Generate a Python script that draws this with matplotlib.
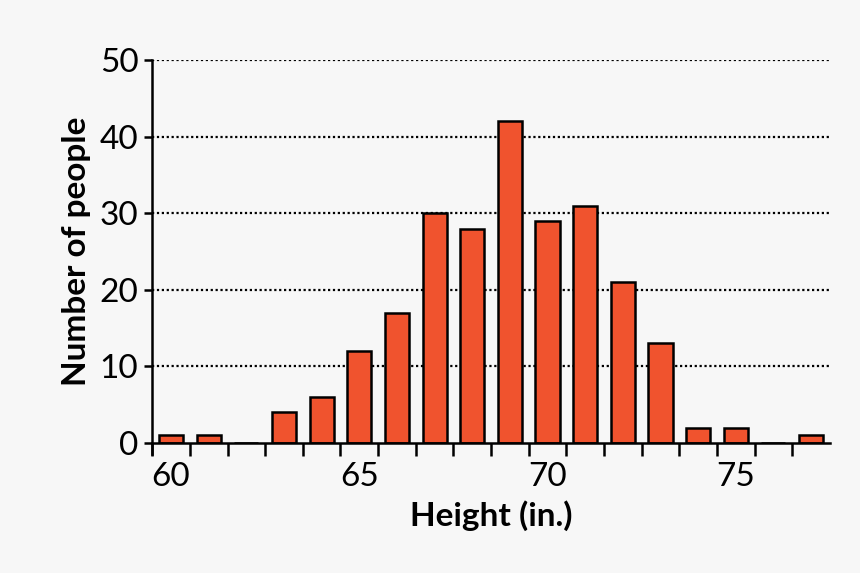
import numpy as np
import matplotlib.pyplot as plt

heights = [60, 61, 62, 63, 64, 65, 66, 67, 68, 69, 70, 71, 72, 73, 74, 75, 76, 77]
counts = [1, 1, 0, 4, 6, 12, 17, 30, 28, 42, 29, 31, 21, 13, 2, 2, 0, 1]
xticks = [60, 65, 70, 75]
yticks = [0, 10, 20, 30, 40, 50]

plt.rcParams['font.family'] = ['Lato', 'DejaVu Sans']
fig = plt.figure(figsize=(8.6, 5.73), dpi=100, facecolor='#f7f7f7')
ax = fig.add_axes([0.177, 0.227, 0.788, 0.668], facecolor='#f7f7f7')

for y in yticks[1:]:
    ax.axhline(y, color='black', linestyle=(0, (1, 1.2)), linewidth=1.6, zorder=0)

ax.bar(heights, counts, width=0.64, color='#f0532e', edgecolor='black', linewidth=1.8, zorder=2)

ax.set_xlim(59.5, 77.5)
ax.set_ylim(0, 50)
ax.set_xticks(xticks)
ax.set_xticks(np.arange(59.5, 77, 1), minor=True)
ax.tick_params(axis='x', which='major', length=0, labelsize=24, pad=14)
ax.tick_params(axis='x', which='minor', length=9, width=1.8, direction='out')
ax.set_yticks(yticks)
ax.tick_params(axis='y', length=6, width=1.8, labelsize=24, pad=4)

for s in ['top', 'right']:
    ax.spines[s].set_visible(False)
ax.spines['left'].set_linewidth(1.8)
ax.spines['bottom'].set_linewidth(1.8)
ax.spines['left'].set_bounds(-1.5, 50)
ax.spines['left'].set_clip_on(False)

ax.set_xlabel('Height (in.)', fontsize=24, fontweight='bold', labelpad=6)
ax.set_ylabel('Number of people', fontsize=24, fontweight='bold', labelpad=6)

fig.savefig('out.png', dpi=100, facecolor=fig.get_facecolor())
